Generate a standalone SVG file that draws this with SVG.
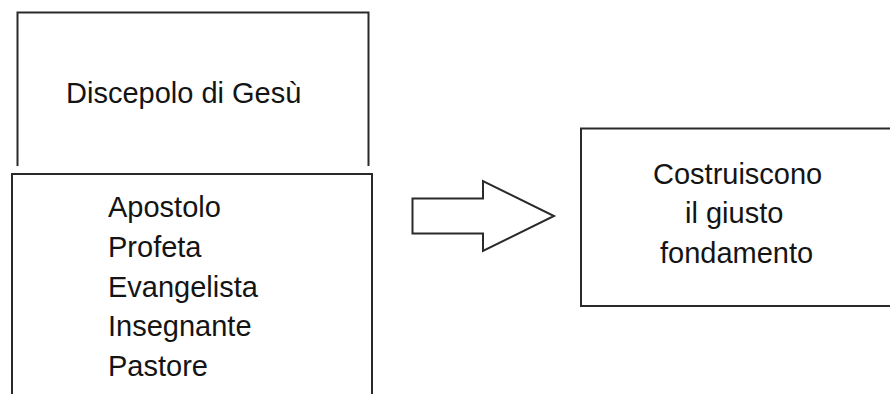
<svg xmlns="http://www.w3.org/2000/svg" width="890" height="394" viewBox="0 0 890 394">
<style>
.ln{fill:none;stroke:#2a2a2a;stroke-width:2}
.t{font-family:"Liberation Sans",Arial,sans-serif;font-size:29px;fill:#141414}
</style>
<rect width="890" height="394" fill="#fff"/>
<g id="discepolo">
<path class="ln" d="M17.5,166 V12.5 H368.5 V166"/>
<text class="t" x="66" y="103">Discepolo di Gesù</text>
</g>
<g id="ministeri">
<path class="ln" d="M12,394 V174 H372 V394"/>
<text class="t" x="108" y="217">Apostolo</text>
<text class="t" x="108" y="257">Profeta</text>
<text class="t" x="108" y="297">Evangelista</text>
<text class="t" x="108" y="336">Insegnante</text>
<text class="t" x="108" y="376">Pastore</text>
</g>
<g id="connectors">
<path class="ln" d="M412.5,198.5 H483 V181 L554,216 L483,251 V233.5 H412.5 Z" fill="#fff"/>
</g>
<g id="fondamento">
<path class="ln" d="M892,128.5 H581 V306 H892"/>
<text class="t" x="653" y="184">Costruiscono</text>
<text class="t" x="685" y="223">il giusto</text>
<text class="t" x="660" y="263">fondamento</text>
</g>
</svg>
